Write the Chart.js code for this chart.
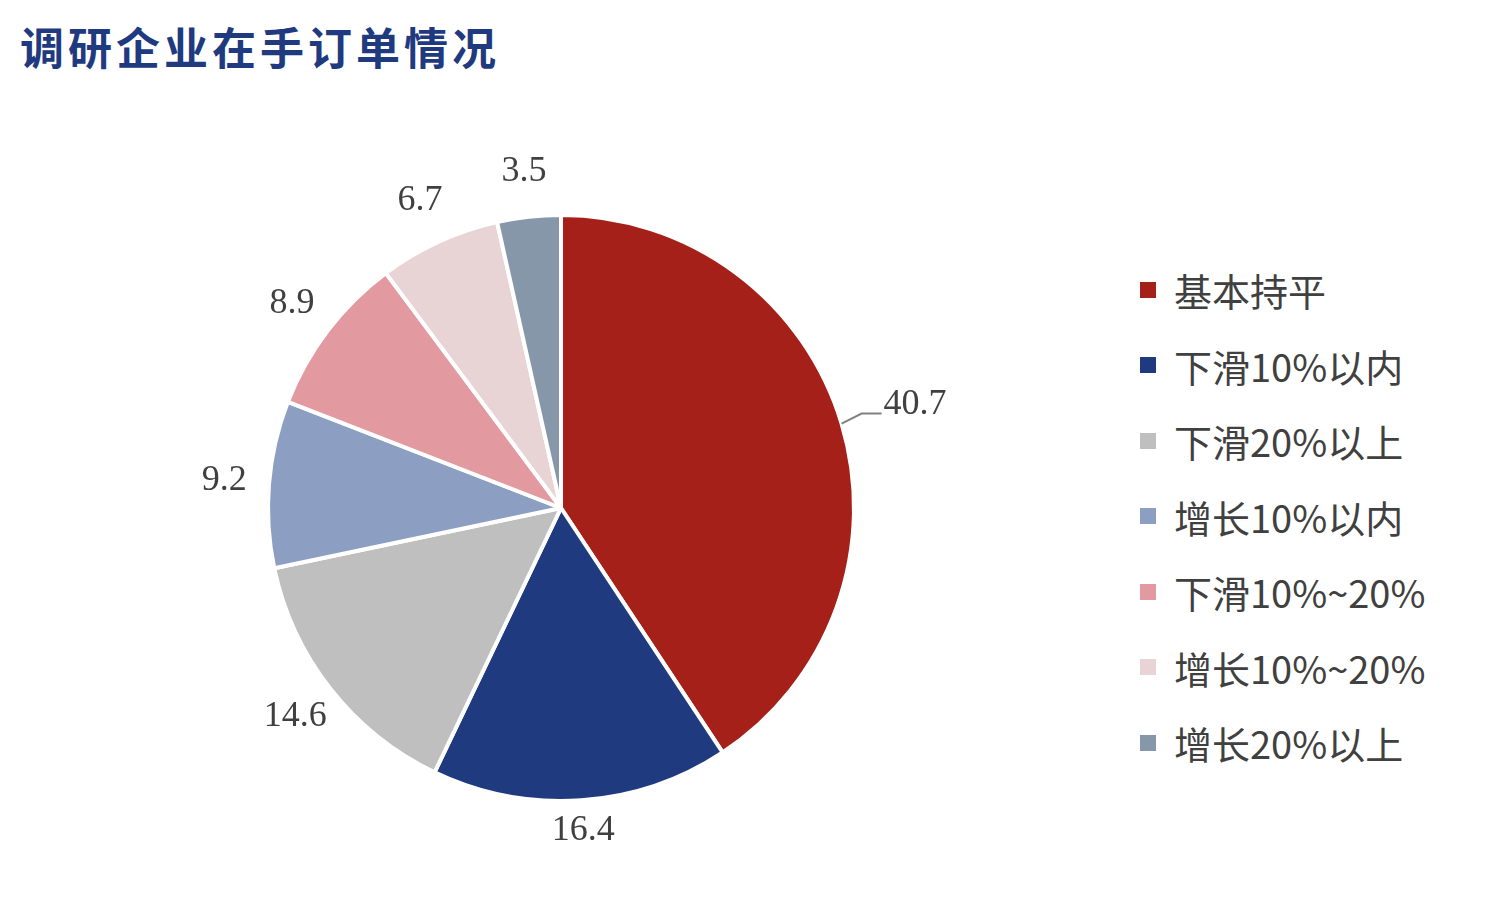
<!DOCTYPE html>
<html><head><meta charset="utf-8">
<script src="https://cdn.jsdelivr.net/npm/chart.js@4.4.0/dist/chart.umd.min.js"></script>
<style>
body{margin:0;width:1501px;height:901px;background:#fff;position:relative;overflow:hidden}
#title{position:absolute;left:20px;top:14px;font:bold 44px "Noto Sans CJK SC";color:#1F3A7F;letter-spacing:4px}
#box{position:absolute;left:0;top:100px;width:1122px;height:816px}
#legend{position:absolute;left:1140px;top:252px;font:38px "Noto Sans CJK SC";color:#404040}
#legend div{height:75.5px;display:flex;align-items:center}
#legend span{display:inline-block;width:16px;height:16px;margin-right:18px}
</style></head><body>
<div id="title">调研企业在手订单情况</div>
<div id="box"><canvas id="c"></canvas></div>
<div id="legend"></div>
<script>
const categories = ["基本持平","下滑10%以内","下滑20%以上","增长10%以内","下滑10%~20%","增长10%~20%","增长20%以上"];
const values = [40.7,16.4,14.6,9.2,8.9,6.7,3.5];
const colors = ["#A52018","#1F3A7F","#BFBFBF","#8C9FC3","#E29AA0","#E8D3D5","#8797AA"];

const lg = document.getElementById("legend");
categories.forEach((c,i)=>{
  const d=document.createElement("div");
  d.innerHTML='<span style="background:'+colors[i]+'"></span>'+c;
  lg.appendChild(d);
});

const labelPlugin = {
  id:"outLabels",
  afterDatasetsDraw(chart){
    const ctx=chart.ctx;
    const meta=chart.getDatasetMeta(0);
    ctx.save();
    ctx.font='36px "Liberation Serif"';
    ctx.fillStyle="#404040";
    ctx.textAlign="center";ctx.textBaseline="middle";
    meta.data.forEach((arc,i)=>{
      const a=(arc.startAngle+arc.endAngle)/2;
      const r=arc.outerRadius;
      if(i===0){
        ctx.strokeStyle="#808080";ctx.lineWidth=2;
        const x1=arc.x+Math.cos(a)*r, y1=arc.y+Math.sin(a)*r;
        ctx.beginPath();ctx.moveTo(x1,y1);ctx.lineTo(x1+20,y1-10);ctx.lineTo(x1+40,y1-10);ctx.stroke();
        ctx.textAlign="left";
        ctx.fillText(values[i].toFixed(1),x1+42,y1-19);
        ctx.textAlign="center";
      } else {
        const rr=r+(i===1?30:45);
        ctx.fillText(values[i].toFixed(1),arc.x+Math.cos(a)*rr,arc.y+Math.sin(a)*rr);
      }
    });
    ctx.restore();
  }
};

new Chart(document.getElementById("c"),{
  type:"pie",
  data:{labels:categories,datasets:[{data:values,backgroundColor:colors,borderColor:"#fff",borderWidth:4}]},
  options:{
    responsive:true,maintainAspectRatio:false,animation:false,
    layout:{padding:{top:113,bottom:113}},
    plugins:{legend:{display:false},tooltip:{enabled:false}}
  },
  plugins:[labelPlugin]
});
</script></body></html>
